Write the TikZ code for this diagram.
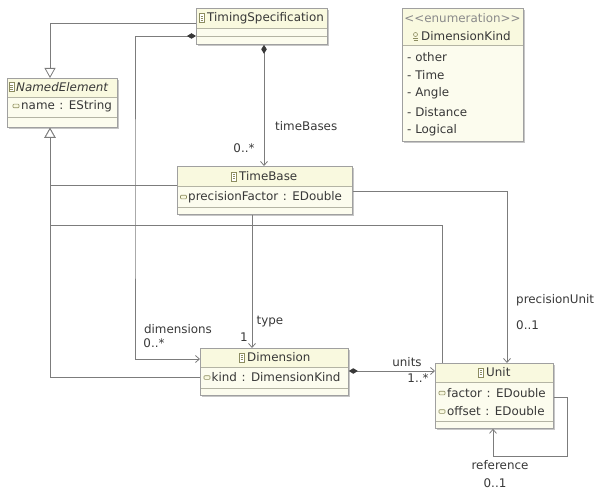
\documentclass[tikz,border=0pt]{standalone}
\usepackage{fontspec}
\newfontfamily\umlfont{DejaVu Sans}
\usetikzlibrary{arrows.meta,shadows}
\definecolor{boxfill}{HTML}{FCFCEE}
\definecolor{hdrfill}{HTML}{F9F9DF}
\definecolor{boxline}{HTML}{A0A0A0}
\definecolor{divline}{HTML}{B4B4A4}
\definecolor{txt}{HTML}{383838}
\definecolor{conn}{HTML}{7C7C7C}
\definecolor{iconcol}{HTML}{8C8C60}
\definecolor{stereo}{HTML}{8A8A8A}
\newcommand\cln{\hspace{4.5pt}:\hspace{5.5pt}}
\tikzset{
  clsicon/.pic={\draw[iconcol, line width=0.6pt, fill=white] (-2.3,-4.5) rectangle (2.3,4.5);
    \draw[iconcol, line width=0.5pt] (-1.3,-2) -- (1.3,-2) (-1.3,0) -- (1.3,0) (-1.3,2) -- (1.3,2);},
  attricon/.pic={\draw[iconcol, line width=0.6pt, fill=hdrfill, rounded corners=0.8pt] (-3,-1.8) rectangle (3,1.8);},
  enumicon/.pic={\draw[iconcol, line width=0.6pt, fill=hdrfill] (0,-2) circle (2);
    \draw[iconcol, line width=0.6pt] (-2.5,1.5) -- (2.5,1.5) (-2,3.5) -- (2,3.5);}
}
\begin{document}
\begin{tikzpicture}[x=1pt,y=-1pt,
  font=\umlfont\fontsize{11.9}{14}\selectfont, text=txt,
  umlbox/.style={draw=boxline, fill=boxfill, rectangle, inner sep=0pt, anchor=north west,
    line width=0.8pt, drop shadow={shadow xshift=1.3pt,shadow yshift=-1.3pt,opacity=0.22,fill=black}},
  lbl/.style={inner sep=0pt},
  cn/.style={draw=conn, line width=0.8pt},
  nav/.style={cn, -{Straight Barb[length=4pt,width=7pt]}},
  gen/.style={cn, -{Triangle[open,length=10pt,width=11pt,fill=white]}},
  comp/.style={cn, {Diamond[length=9pt,width=5.5pt,fill=txt,color=txt]}-{Straight Barb[length=4pt,width=7pt]}},
]
\useasboundingbox (0,0) rectangle (596,489);

% ---------- boxes ----------
\node[umlbox, minimum width=131pt, minimum height=36pt] (ts) at (196,8) {};
\node[umlbox, minimum width=110pt, minimum height=49pt] (ne) at (7,78) {};
\node[umlbox, minimum width=175pt, minimum height=48pt] (tb) at (177,166) {};
\node[umlbox, minimum width=148pt, minimum height=47pt] (dim) at (200,348) {};
\node[umlbox, minimum width=118pt, minimum height=65pt] (un) at (435,363) {};
\node[umlbox, minimum width=121pt, minimum height=133pt] (en) at (402,8) {};

% ---------- connectors ----------
\draw[gen] (ts.west |- 0,23) -| (ne.north -| 50,0);
\draw[gen] (tb.west |- 0,185) -| (ne.south -| 50,0);
\draw[gen] (un.north -| 442,0) |- (50,225) -- (ne.south -| 50,0);
\draw[gen] (dim.west |- 0,377) -| (ne.south -| 50,0);
\draw[comp] (ts.west |- 0,36) -| (135,200) |- (dim.west |- 0,359);
\draw[comp] (ts.south -| 264,0) -- (tb.north -| 264,0);
\draw[nav] (tb.south -| 252,0) -- (dim.north -| 252,0);
\draw[nav] (tb.east |- 0,191) -| (un.north -| 507,0);
\draw[comp] (dim.east |- 0,371) -- (un.west |- 0,371);
\draw[nav] (un.east |- 0,397) -| (567,456) -| (un.south -| 493,0);

% ---------- box interiors ----------
% TimingSpecification
\fill[hdrfill] (196.4,8.4) rectangle (326.6,28);
\draw[divline, line width=0.7pt] (196,28) -- (327,28) (196,36) -- (327,36);
\draw[boxline, line width=0.8pt] (ts.north west) rectangle (ts.south east);
\pic at (202,18) {clsicon};
\node[lbl, anchor=west] (tsn) at (207,18) {TimingSpecification};

% NamedElement
\fill[hdrfill] (7.4,78.4) rectangle (116.6,97);
\draw[divline, line width=0.7pt] (7,97) -- (117,97) (7,117) -- (117,117);
\draw[boxline, line width=0.8pt] (ne.north west) rectangle (ne.south east);
\pic at (11.5,87) {clsicon};
\node[lbl, anchor=west] (nen) at (16,87) {\itshape NamedElement};
\pic at (16,106) {attricon};
\node[lbl, anchor=west] (nea) at (21,106) {name\cln EString};

% TimeBase
\fill[hdrfill] (177.4,166.4) rectangle (351.6,186);
\draw[divline, line width=0.7pt] (177,186) -- (352,186) (177,207) -- (352,207);
\draw[boxline, line width=0.8pt] (tb.north west) rectangle (tb.south east);
\pic at (234,176.5) {clsicon};
\node[lbl, anchor=west] (tbn) at (239,176.5) {TimeBase};
\pic at (183.5,197) {attricon};
\node[lbl, anchor=west] (tba) at (188,197) {precisionFactor\cln EDouble};

% Dimension
\fill[hdrfill] (200.4,348.4) rectangle (347.6,367);
\draw[divline, line width=0.7pt] (200,367) -- (348,367) (200,388) -- (348,388);
\draw[boxline, line width=0.8pt] (dim.north west) rectangle (dim.south east);
\pic at (242,357.5) {clsicon};
\node[lbl, anchor=west] (dimn) at (247,357.5) {Dimension};
\pic at (207,377.5) {attricon};
\node[lbl, anchor=west] (dima) at (211.5,377.5) {kind\cln DimensionKind};

% Unit
\fill[hdrfill] (435.4,363.4) rectangle (552.6,382);
\draw[divline, line width=0.7pt] (435,382) -- (553,382) (435,421) -- (553,421);
\draw[boxline, line width=0.8pt] (un.north west) rectangle (un.south east);
\pic at (481,372.5) {clsicon};
\node[lbl, anchor=west] (unn) at (486,372.5) {Unit};
\pic at (442,393) {attricon};
\node[lbl, anchor=west] (una) at (447,393) {factor\cln EDouble};
\pic at (442,411.5) {attricon};
\node[lbl, anchor=west] (unb) at (447,411.5) {offset\cln EDouble};

% DimensionKind enumeration
\fill[hdrfill] (402.4,8.4) rectangle (522.6,45);
\draw[divline, line width=0.7pt] (402,45) -- (523,45);
\draw[boxline, line width=0.8pt] (en.north west) rectangle (en.south east);
\node[lbl, text=stereo] (ens) at (462.5,18) {<<enumeration>>};
\pic at (415.5,36.5) {enumicon};
\node[lbl, anchor=west] (enn) at (421,36.5) {DimensionKind};
\node[lbl, anchor=west] (e1) at (407,57) {- other};
\node[lbl, anchor=west] (e2) at (407,75) {- Time};
\node[lbl, anchor=west] (e3) at (407,93.5) {- Angle};
\node[lbl, anchor=west] (e4) at (407,112) {- Distance};
\node[lbl, anchor=west] (e5) at (407,130) {- Logical};

% ---------- connector labels ----------
\node[lbl, anchor=west] (l1) at (275,126) {timeBases};
\node[lbl] (l2) at (244,148) {0..*};
\node[lbl] (l3) at (270,322) {type};
\node[lbl] (l4) at (244,337) {1};
\node[lbl] (l5) at (178,329) {dimensions};
\node[lbl] (l6) at (154,343) {0..*};
\node[lbl] (l7) at (407,362) {units};
\node[lbl] (l8) at (418,378) {1..*};
\node[lbl, anchor=west] (l9) at (516,300) {precisionUnit};
\node[lbl, anchor=west] (l10) at (516,325) {0..1};
\node[lbl] (l11) at (500,465) {reference};
\node[lbl] (l12) at (495,483) {0..1};
\end{tikzpicture}
\end{document}
